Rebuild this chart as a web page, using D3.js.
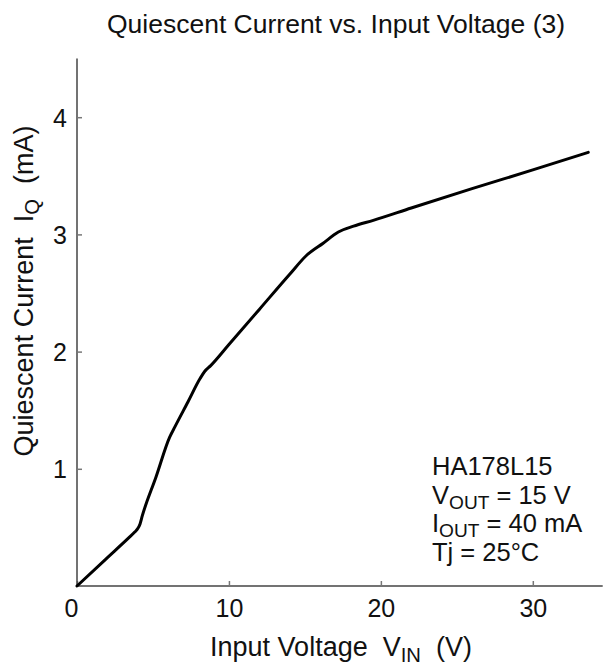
<!DOCTYPE html>
<html>
<head>
<meta charset="utf-8">
<script src="https://cdn.jsdelivr.net/npm/d3@7"></script>
<style>
  html, body { margin: 0; padding: 0; background: #fff; }
  svg { display: block; font-family: "Liberation Sans", Arial, Helvetica, sans-serif; }
  text { white-space: pre; }
</style>
</head>
<body>
<svg id="chart" width="613" height="666"></svg>
<script>
// ---- data ----
const vin = [0, 1.9, 3.4, 3.8, 4.0, 4.15, 4.3, 5.2, 6.1, 6.45, 7.3, 8.1, 8.4, 8.8, 10, 12, 14, 15.1, 16.2, 17.2, 18.2, 19.5, 22, 26, 30, 33.65];
const iq  = [0, 0.23, 0.41, 0.46, 0.49, 0.53, 0.60, 0.93, 1.27, 1.36, 1.57, 1.77, 1.83, 1.88, 2.06, 2.36, 2.66, 2.82, 2.925, 3.02, 3.07, 3.12, 3.225, 3.39, 3.55, 3.70];
const xTicks = [0, 10, 20, 30];
const yTicks = [1, 2, 3, 4];
const xDomain = [0, 34.6];
const yDomain = [0, 4.5];
const titleText = "Quiescent Current vs. Input Voltage (3)";
const noteLines = [
  [{t: "HA178L15"}],
  [{t: "V"}, {t: "OUT", sub: true}, {t: " = 15 V"}],
  [{t: "I"}, {t: "OUT", sub: true}, {t: " = 40 mA"}],
  [{t: "Tj = 25°C"}]
];

// ---- layout ----
const svg = d3.select("#chart");
const fs = 25;
const fsLabel = 27;
const x = d3.scaleLinear().domain(xDomain).range([77, 602.7]);
const y = d3.scaleLinear().domain(yDomain).range([586, 586 - 117.2 * 4.5]);
const axisColor = "#444";

// title
svg.append("text")
  .attr("x", 336).attr("y", 33)
  .attr("text-anchor", "middle")
  .attr("font-size", 26.5)
  .attr("fill", "#111")
  .text(titleText);

// axes
const gx = svg.append("g").attr("transform", `translate(0,${y(0)})`)
  .call(d3.axisBottom(x).tickValues(xTicks).tickSize(-5).tickPadding(13).tickFormat(d3.format("d")));
const gy = svg.append("g").attr("transform", `translate(${x(0)},0)`)
  .call(d3.axisLeft(y).tickValues(yTicks).tickSize(-5).tickPadding(10).tickFormat(d3.format("d")));

[gx, gy].forEach(g => {
  g.select(".domain").attr("stroke", axisColor).attr("stroke-width", 1.5);
  g.selectAll(".tick line").attr("stroke", "#777").attr("stroke-width", 1.5);
  g.selectAll(".tick text").attr("font-size", fs).attr("fill", "#111")
    .attr("font-family", "Liberation Sans, Arial, sans-serif");
});
gx.select(".domain").attr("d", `M${x(0)},0H${x(xDomain[1])}`);
gy.select(".domain").attr("d", `M0,${y(yDomain[1])}V${y(0)}`);
gy.selectAll(".tick text").attr("dy", "0.36em");
// "0" label on x axis sits slightly left of the origin
gx.selectAll(".tick").filter(d => d === 0).select("text").attr("x", -6);

// axis titles
const xl = svg.append("text").attr("x", 341).attr("y", 656).attr("text-anchor", "middle")
  .attr("font-size", fsLabel).attr("fill", "#111");
xl.append("tspan").text("Input Voltage  V");
xl.append("tspan").attr("font-size", fsLabel * 0.75).attr("dy", 6).text("IN");
xl.append("tspan").attr("dy", -6).text("  (V)");

const yl = svg.append("text").attr("transform", "translate(33,291) rotate(-90)")
  .attr("text-anchor", "middle").attr("font-size", fsLabel).attr("fill", "#111");
yl.append("tspan").text("Quiescent Current  I");
yl.append("tspan").attr("font-size", fsLabel * 0.75).attr("dy", 6).text("Q");
yl.append("tspan").attr("dy", -6).text("  (mA)");

// curve
const pts = vin.map((v, i) => [v, iq[i]]);
svg.append("path")
  .datum(pts)
  .attr("fill", "none")
  .attr("stroke", "#000")
  .attr("stroke-width", 3)
  .attr("stroke-linejoin", "round")
  .attr("stroke-linecap", "round")
  .attr("d", d3.line().x(d => x(d[0])).y(d => y(d[1])).curve(d3.curveMonotoneX));

// annotation
const note = svg.append("g");
noteLines.forEach((parts, i) => {
  const t = note.append("text").attr("x", 432).attr("y", 475 + i * 28.5)
    .attr("font-size", 25.5).attr("fill", "#111");
  let shifted = false;
  parts.forEach(p => {
    const ts = t.append("tspan").text(p.t);
    if (p.sub && !shifted) { ts.attr("font-size", 25.5 * 0.75).attr("dy", 5); shifted = true; }
    else if (!p.sub && shifted) { ts.attr("dy", -5); shifted = false; }
  });
});
</script>
</body>
</html>
